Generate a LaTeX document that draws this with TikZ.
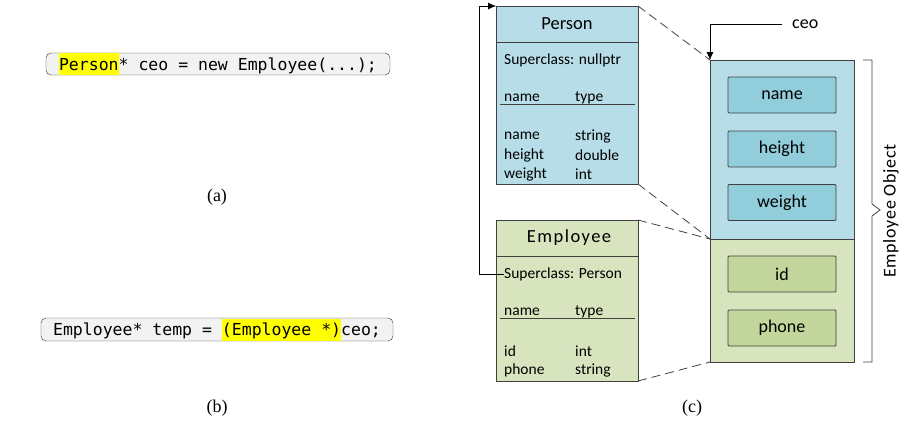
\documentclass[tikz,border=0pt]{standalone}
\usepackage{fontspec}
\setmainfont{Carlito}
\newfontfamily\codefont{DejaVu Sans Mono}
\newfontfamily\capfont{Liberation Serif}
\usetikzlibrary{arrows.meta,positioning,calc}
\definecolor{codegray}{RGB}{242,242,242}
\definecolor{hiyellow}{RGB}{255,255,0}
\definecolor{baseblue}{RGB}{183,221,232}
\definecolor{slotblue}{RGB}{146,205,220}
\definecolor{derivgreen}{RGB}{215,228,189}
\definecolor{slotgreen}{RGB}{195,214,155}
\definecolor{edgegray}{RGB}{64,64,64}
\newcommand{\hilite}[1]{{\setlength{\fboxsep}{0pt}\colorbox{hiyellow}{\rule[-5pt]{0pt}{22pt}#1}}}

\begin{document}
\begin{tikzpicture}[x=1pt,y=-1pt,>={Latex[length=8pt,width=7pt]}]
\useasboundingbox (0,0) rectangle (913,434);
\tikzset{
  codebox/.style={draw=black!80,rounded corners=5pt,fill=codegray,inner sep=0pt,font=\codefont\fontsize{16.5}{16.5}\selectfont},
  classbox/.style={draw=edgegray,thick,inner sep=0pt,outer sep=0pt,anchor=north west,minimum width=142},
  header/.style={inner sep=0pt,font=\fontsize{18.5}{18.5}\selectfont},
  field/.style={anchor=west,inner sep=0pt,font=\fontsize{15.5}{15.5}\selectfont},
  slot/.style={draw=edgegray,thick,rounded corners=1pt,minimum width=108,minimum height=36,font=\fontsize{18}{18}\selectfont},
  memline/.style={draw=edgegray,thick,dash pattern=on 9pt off 5pt},
  caption/.style={font=\capfont\fontsize{18}{18}\selectfont}
}
% code snippets
\node[codebox,minimum width=344,minimum height=22] (codea) at (218,64) {\hilite{Person}* ceo = new Employee(...);};
\node[caption] (capa) at (217,197) {(a)};
\node[codebox,minimum width=352,minimum height=23] (codeb) at (217,329.5) {Employee* temp = \hilite{(Employee *)}ceo;};
\node[caption] (capb) at (217,408) {(b)};
\node[caption] (capc) at (692,408) {(c)};

% class descriptions
\node[classbox,fill=baseblue,minimum height=178] (person) at (496,6) {};
\draw[edgegray,thick] ($(person.north west)+(0,36)$) -- ($(person.north east)+(0,36)$);
\node[header] (personname) at (567,24) {Person};
\node[field] (personsuper) at (504,60) {Superclass: nullptr};
\node[field] (personcolname) at (504,98) {name};
\node[field] (personcoltype) at (575,98) {type};
\draw[edgegray,thick] (500,104) -- (635,104);
\node[field] (pname) at (504,136) {name};
\node[field] (pnametype) at (575,136) {string};
\node[field] (pheight) at (504,155) {height};
\node[field] (pheighttype) at (575,155) {double};
\node[field] (pweight) at (504,174) {weight};
\node[field] (pweighttype) at (575,174) {int};

\node[classbox,fill=derivgreen,minimum height=161] (employee) at (496,220) {};
\draw[edgegray,thick] ($(employee.north west)+(0,36)$) -- ($(employee.north east)+(0,36)$);
\node[header] (employeename) at (569,238) {\addfontfeature{LetterSpace=8}Employee};
\node[field] (empsuper) at (504,274) {Superclass: Person};
\node[field] (empcolname) at (504,312) {name};
\node[field] (empcoltype) at (575,312) {type};
\draw[edgegray,thick] (500,318) -- (635,318);
\node[field] (eid) at (504,351) {id};
\node[field] (eidtype) at (575,351) {int};
\node[field] (ephone) at (504,370) {phone};
\node[field] (ephonetype) at (575,370) {string};

\draw[->,black] (empsuper.west) -- ++(-25,0) |- (person.north west);

% object in memory
\node[classbox,fill=baseblue,minimum width=144,minimum height=179] (objbase) at (710,60) {};
\node[classbox,fill=derivgreen,minimum width=144,minimum height=123] (objderived) at (710,239) {};
\node[slot,fill=slotblue] (slotname) at (782,95) {name};
\node[slot,fill=slotblue] (slotheight) at (782,149) {height};
\node[slot,fill=slotblue] (slotweight) at (782,202.5) {weight};
\node[slot,fill=slotgreen] (slotid) at (782,274) {id};
\node[slot,fill=slotgreen] (slotphone) at (782,328) {phone};

\node[anchor=west,inner sep=0pt,font=\fontsize{18}{18}\selectfont] (ceo) at (792,24) {ceo};
\draw[->,black] (ceo.west) ++(-10,0) -| (objbase.north west);

\draw[memline] (person.north east) -- (objbase.north west);
\draw[memline] (person.south east) -- (objbase.south west);
\draw[memline] (employee.north east) -- (objderived.north west);
\draw[memline] (employee.south east) -- (objderived.south west);

\draw[edgegray,thick] (863,60) -- (872,60) -- (872,204) -- (880,210) -- (872,216) -- (872,362) -- (863,362);
\node[rotate=90,inner sep=0pt,font=\fontsize{18}{18}\selectfont] (objlabel) at (891,211) {\addfontfeature{LetterSpace=4}Employee Object};
\end{tikzpicture}
\end{document}
